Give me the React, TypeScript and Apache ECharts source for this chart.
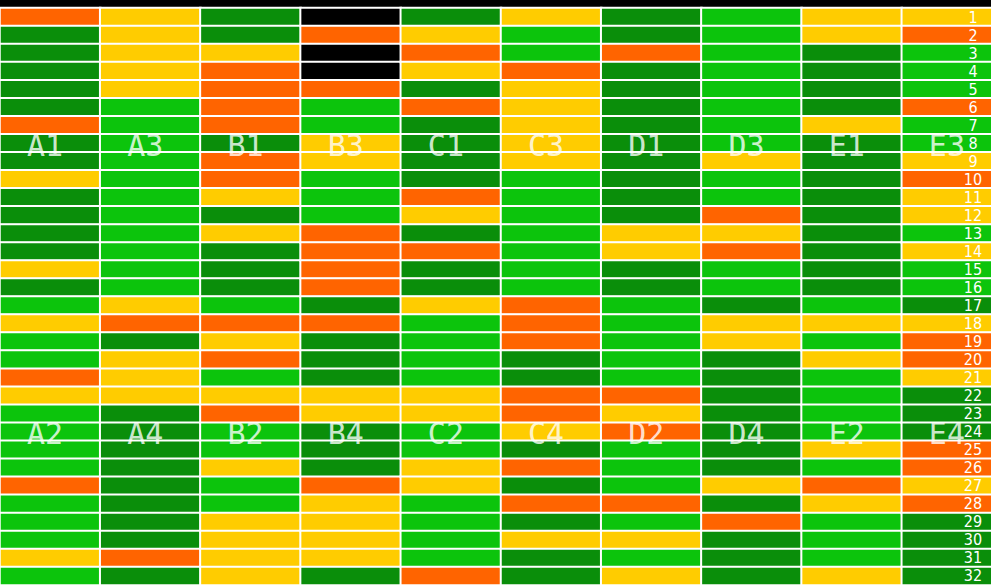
import React, { useEffect, useRef } from "react";
import * as echarts from "echarts";

// Column (plate) names shown on the upper label row and lower label row
const topLabels = ["A1", "A3", "B1", "B3", "C1", "C3", "D1", "D3", "E1", "E3"];
const bottomLabels = ["A2", "A4", "B2", "B4", "C2", "C4", "D2", "D4", "E2", "E4"];

// Row tick labels
const rowLabels = [
  "1", "2", "3", "4", "5", "6", "7", "8", "9", "10", "11", "12", "13", "14", "15", "16",
  "17", "18", "19", "20", "21", "22", "23", "24", "25", "26", "27", "28", "29", "30", "31", "32",
];

const topLabelRow = "8";
const bottomLabelRow = "24";

// Cell states per column, row 1..32 (K=black, DG=dark green, G=green, Y=yellow, O=orange)
const colA1 = ["O","DG","DG","DG","DG","DG","O","DG", "DG","Y","DG","DG","DG","DG","Y","DG", "G","Y","G","G","O","Y","G","G", "G","G","O","G","G","G","Y","G"];
const colA3 = ["Y","Y","Y","Y","Y","G","G","G", "G","G","G","G","G","G","G","G", "Y","O","DG","Y","Y","Y","DG","DG", "DG","DG","DG","DG","DG","DG","O","DG"];
const colB1 = ["DG","DG","Y","O","O","O","O","DG", "O","O","Y","DG","Y","DG","DG","DG", "G","O","Y","O","G","Y","O","G", "G","Y","G","G","Y","Y","Y","Y"];
const colB3 = ["K","O","K","K","O","G","G","Y", "Y","G","G","G","O","O","O","O", "DG","O","DG","DG","DG","Y","Y","DG", "DG","DG","O","Y","Y","Y","Y","DG"];
const colC1 = ["DG","Y","O","Y","DG","O","DG","DG", "DG","DG","O","Y","DG","O","DG","DG", "Y","G","G","G","G","Y","Y","G", "G","Y","Y","G","G","G","G","O"];
const colC3 = ["Y","G","G","O","Y","Y","Y","Y", "Y","G","G","G","G","G","G","G", "O","O","O","DG","DG","O","O","Y", "DG","O","DG","O","DG","Y","DG","DG"];
const colD1 = ["DG","DG","O","DG","DG","DG","DG","DG", "DG","DG","DG","DG","Y","Y","DG","DG", "G","G","G","G","G","O","Y","O", "G","G","G","O","G","Y","G","Y"];
const colD3 = ["G","G","G","G","G","G","G","G", "Y","G","G","O","Y","O","G","G", "DG","Y","Y","DG","DG","DG","DG","DG", "DG","DG","Y","DG","O","DG","DG","DG"];
const colE1 = ["Y","Y","DG","DG","DG","DG","Y","DG", "DG","DG","DG","DG","DG","DG","DG","DG", "G","Y","G","Y","G","G","G","G", "Y","G","O","Y","G","G","G","Y"];
const colE3 = ["Y","O","G","G","G","O","G","G", "Y","O","Y","Y","G","Y","G","G", "DG","Y","O","O","Y","DG","DG","DG", "O","O","Y","O","DG","DG","DG","DG"];

const columns = [colA1, colA3, colB1, colB3, colC1, colC3, colD1, colD3, colE1, colE3];

const stateCodes = ["K", "DG", "G", "Y", "O"];
const stateColors = ["#000000", "#0a8e0a", "#0cc40c", "#ffcc00", "#ff6400"];

export default function App() {
  const ref = useRef<HTMLDivElement>(null);

  useEffect(() => {
    if (!ref.current) return;
    document.documentElement.style.overflow = "hidden";
    document.body.style.overflow = "hidden";
    document.body.style.margin = "0";
    const chart = echarts.init(ref.current, null, { renderer: "svg" });

    const heatData: any[] = [];
    columns.forEach((col, ci) => {
      col.forEach((s, ri) => {
        heatData.push([ci, ri, stateCodes.indexOf(s)]);
      });
    });

    const labelData: any[] = [];
    topLabels.forEach((n, i) => labelData.push({ name: n, value: [topLabels[i], topLabelRow] }));
    bottomLabels.forEach((n, i) => labelData.push({ name: n, value: [topLabels[i], bottomLabelRow] }));

    chart.setOption({
      animation: false,
      backgroundColor: "#000",
      grid: { left: 0, right: 0, top: 8, bottom: 0 },
      xAxis: {
        type: "category",
        data: topLabels,
        show: false,
      },
      yAxis: {
        type: "category",
        data: rowLabels,
        inverse: true,
        position: "right",
        z: 10,
        axisLine: { show: false },
        axisTick: { show: false },
        splitLine: { show: false },
        axisLabel: {
          inside: true,
          align: "center",
          margin: 29,
          color: "#ffffff",
          fontSize: 16,
          lineHeight: 15,
          fontFamily: "'Liberation Sans Narrow', 'DejaVu Sans Condensed', 'Roboto Condensed', sans-serif",
          interval: 0,
        },
      },
      visualMap: {
        type: "piecewise",
        show: false,
        dimension: 2,
        seriesIndex: 0,
        pieces: stateColors.map((c, i) => ({ value: i, color: c })),
      },
      series: [
        {
          type: "heatmap",
          data: heatData,
          z: 2,
          itemStyle: { borderColor: "#ffffff", borderWidth: 2 },
          emphasis: { disabled: true },
        },
        {
          type: "scatter",
          z: 5,
          symbolSize: 1,
          itemStyle: { color: "rgba(0,0,0,0)" },
          data: labelData,
          label: {
            show: true,
            position: "inside",
            formatter: "{b}",
            color: "#ffffff",
            fontSize: 30,
            fontFamily: "'DejaVu Sans Mono', monospace",
            offset: [-5, 2],
          },
        },
      ],
    });

    return () => chart.dispose();
  }, []);

  return (
    <div
      ref={ref}
      style={{ position: "fixed", left: 0, top: 0, width: 1002, height: 585 }}
    />
  );
}
